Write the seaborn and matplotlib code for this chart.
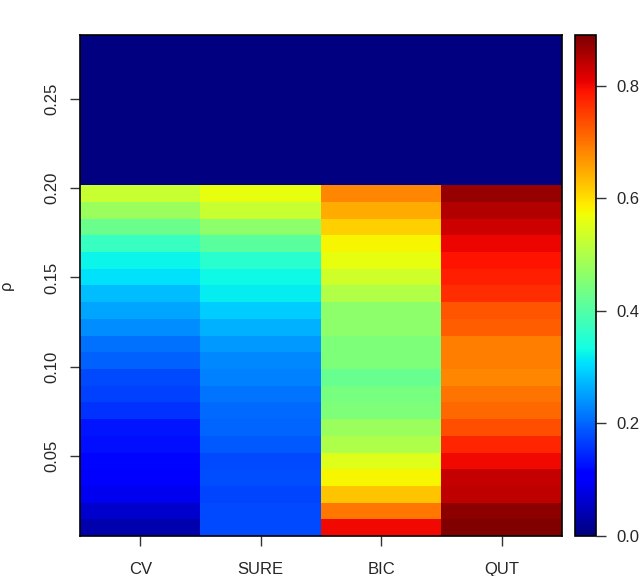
import numpy as np
import pandas as pd
import matplotlib.pyplot as plt
import seaborn as sns

sns.set_style("ticks")
plt.rcParams['font.family'] = ['Liberation Sans', 'DejaVu Sans']

methods = ['CV', 'SURE', 'BIC', 'QUT']

# values per row, from the smallest rho (bottom) up to rho = 0.20
cv = [0.038, 0.060, 0.088, 0.105, 0.115, 0.125, 0.130, 0.155, 0.167, 0.174, 0.196,
      0.210, 0.236, 0.255, 0.278, 0.307, 0.325, 0.370, 0.427, 0.477, 0.525]
sure = [0.174, 0.174, 0.172, 0.180, 0.174, 0.188, 0.200, 0.204, 0.214, 0.223, 0.230,
        0.245, 0.265, 0.290, 0.318, 0.330, 0.356, 0.410, 0.465, 0.526, 0.560]
bic = [0.800, 0.697, 0.623, 0.580, 0.552, 0.500, 0.477, 0.448, 0.440, 0.422, 0.445,
       0.445, 0.463, 0.463, 0.502, 0.532, 0.560, 0.580, 0.613, 0.649, 0.683]
qut = [0.890, 0.877, 0.840, 0.835, 0.800, 0.772, 0.735, 0.710, 0.700, 0.683, 0.690,
       0.690, 0.720, 0.730, 0.765, 0.780, 0.790, 0.806, 0.828, 0.850, 0.870]
n_empty = 9  # rows above rho = 0.20, all zero

rho_lo, rho_hi = 0.005, 0.286
rho_ticks = [0.05, 0.10, 0.15, 0.20, 0.25]
cbar_ticks = [0.0, 0.2, 0.4, 0.6, 0.8]

df = pd.DataFrame({
    'CV': cv + [0.0] * n_empty,
    'SURE': sure + [0.0] * n_empty,
    'BIC': bic + [0.0] * n_empty,
    'QUT': qut + [0.0] * n_empty,
})
grid = df.iloc[::-1].reset_index(drop=True)  # top row = largest rho

fig = plt.figure(figsize=(6.4, 5.76), dpi=100)
ax = fig.add_axes([0.125, 0.0694, 0.753, 0.870])
cax = fig.add_axes([0.898, 0.0694, 0.033, 0.870])

sns.heatmap(grid, cmap='jet', vmin=0, vmax=0.89, ax=ax, cbar_ax=cax,
            xticklabels=methods, yticklabels=False, linewidths=0)

n_rows = len(grid)
pos = [(rho_hi - r) / (rho_hi - rho_lo) * n_rows for r in rho_ticks]
ax.set_yticks(pos)
ax.set_yticklabels([f'{r:.2f}' for r in rho_ticks], rotation=90, va='center')
ax.set_xticklabels(methods, rotation=0)
ax.tick_params(length=7, width=1, direction='out', labelsize=12, color='#333333')
ax.tick_params(axis='y', pad=8)
ax.tick_params(axis='x', pad=12)
for s in ax.spines.values():
    s.set_visible(True)
    s.set_linewidth(1.2)
    s.set_color('black')
ax.set_ylabel('ρ', fontsize=12, labelpad=22)
ax.set_xlabel('')

cbar = ax.collections[0].colorbar
cbar.set_ticks(cbar_ticks)
cbar.set_ticklabels([f'{t:.1f}' for t in cbar_ticks])
cbar.ax.tick_params(length=7, width=1, labelsize=12, pad=8, color='#333333')
cbar.outline.set_linewidth(1.2)
cbar.outline.set_edgecolor('black')

fig.savefig('out.png', dpi=100)
